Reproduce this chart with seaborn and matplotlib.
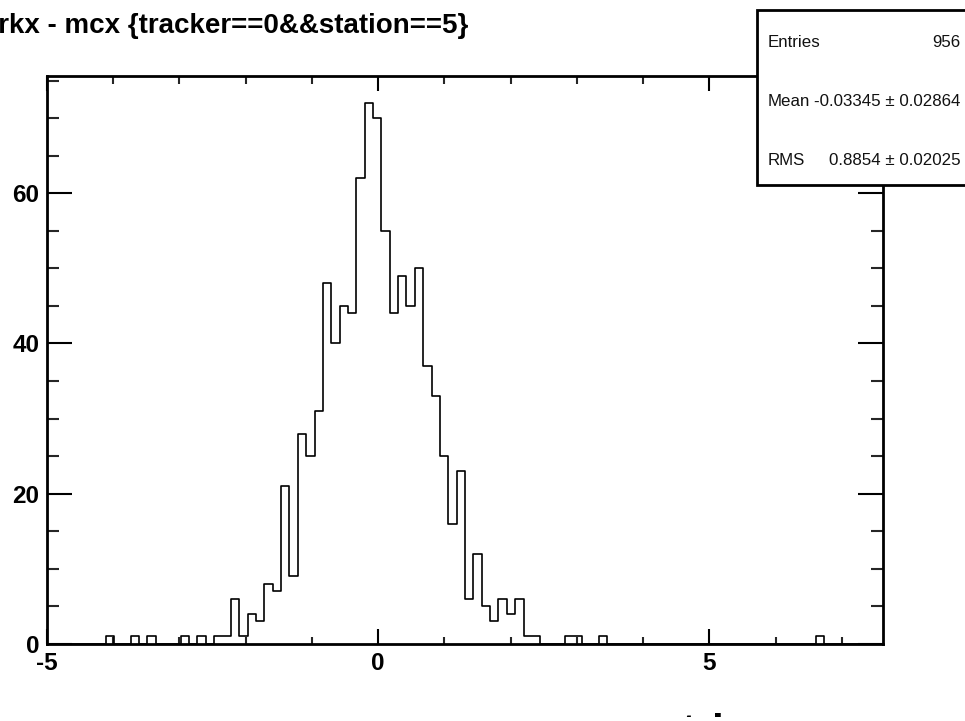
import numpy as np
import pandas as pd
import matplotlib
matplotlib.use("Agg")
import matplotlib.pyplot as plt
import seaborn as sns
from matplotlib.patches import Rectangle
from matplotlib.transforms import Bbox
from matplotlib.ticker import FixedLocator, MultipleLocator

# Binning of the residual trkx - mcx
x_low = -5.0
x_high = 7.62
n_bins = 100

# Non-empty bins: bin number and number of entries
bin_index = [7, 10, 12, 16, 18, 20, 21,
             22, 23, 24, 25, 26, 27, 28, 29, 30, 31, 32, 33, 34, 35, 36, 37,
             38, 39, 40, 41, 42, 43, 44, 45, 46, 47, 48, 49, 50, 51, 52, 53,
             54, 55, 56, 57, 58,
             62, 63, 66, 92]
bin_count = [1, 1, 1, 1, 1, 1, 1,
             6, 1, 4, 3, 8, 7, 21, 9, 28, 25, 31, 48, 40, 45, 44, 62,
             72, 70, 55, 44, 49, 45, 50, 37, 33, 25, 16, 23, 6, 12, 5, 3,
             6, 4, 6, 1, 1,
             1, 1, 1, 1]

x_major = [-5, 0, 5]
y_major = [0, 20, 40, 60]

hist_title = "trkx - mcx {tracker==0&&station==5}"
axis_title = "trkx - mcx"
stat_names = ["Entries", "Mean", "RMS"]
stat_values = ["956", "-0.03345 \u00b1 0.02864", "0.8854 \u00b1 0.02025"]

sns.set_theme(style="ticks")
plt.rcParams["font.family"] = ["Liberation Sans", "DejaVu Sans"]
plt.rcParams["font.weight"] = "bold"
plt.rcParams["axes.unicode_minus"] = False

W, H = 965, 721
fig = plt.figure(figsize=(W / 100, H / 100), dpi=100)
fig.patch.set_facecolor("white")

ax_l, ax_r, ax_t, ax_b = 47, 883, 76, 644
ax = fig.add_axes([ax_l / W, 1 - ax_b / H, (ax_r - ax_l) / W, (ax_b - ax_t) / H])
ax.set_facecolor("white")

edges = np.linspace(x_low, x_high, n_bins + 1)
idx = np.asarray(bin_index)
df = pd.DataFrame({
    "dx": 0.5 * (edges[idx] + edges[idx + 1]),
    "n": bin_count,
})
sns.histplot(data=df, x="dx", weights="n", bins=n_bins, binrange=(x_low, x_high),
             element="step", fill=False, color="black", linewidth=1.2, ax=ax)

ax.set_xlim(x_low, x_high)
ax.set_ylim(0, max(bin_count) * 1.05)
ax.set_xlabel("")
ax.set_ylabel("")

ax.xaxis.set_major_locator(FixedLocator(x_major))
ax.xaxis.set_minor_locator(MultipleLocator(1))
ax.yaxis.set_major_locator(FixedLocator(y_major))
ax.yaxis.set_minor_locator(MultipleLocator(5))

px = 0.72
ax.tick_params(axis="x", which="major", direction="in", length=15 * px, width=1.5,
               top=True, bottom=True, labelsize=17.5, pad=5.5, colors="black")
ax.tick_params(axis="x", which="minor", direction="in", length=7.5 * px, width=1.5,
               top=True, bottom=True)
ax.tick_params(axis="y", which="major", direction="in", length=25 * px, width=1.5,
               left=True, right=True, labelsize=17.5, pad=5.5, colors="black")
ax.tick_params(axis="y", which="minor", direction="in", length=12 * px, width=1.5,
               left=True, right=True)
for lab in ax.get_xticklabels() + ax.get_yticklabels():
    lab.set_fontweight("bold")

for sp in ax.spines.values():
    sp.set_visible(True)
    sp.set_linewidth(2.0)
    sp.set_color("black")

# Histogram title (starts left of the canvas edge)
fig.text(-11 / W, 1 - 33 / H, hist_title, ha="left", va="baseline",
         fontsize=20, fontweight="bold", color="black")

# Axis title, right-adjusted near the end of the x axis, cut at the canvas bottom
xt = fig.text((ax_r - 4) / W, 1 - 744 / H, axis_title, ha="right", va="baseline",
              fontsize=30, fontweight="bold", color="black")
xt.set_clip_box(Bbox.from_extents(0, 4, W, H))
xt.set_clip_on(True)

# Statistics box
box_l, box_t, box_b = 757, 10, 185
fig.add_artist(Rectangle((box_l / W, 1 - box_b / H), (W + 20 - box_l) / W,
                         (box_b - box_t) / H, transform=fig.transFigure,
                         facecolor="white", edgecolor="black", linewidth=2.0,
                         zorder=10, clip_on=False))
rows_y = [47.3, 106, 165]
for name, val, yb in zip(stat_names, stat_values, rows_y):
    fig.text(767.5 / W, 1 - yb / H, name, ha="left", va="baseline",
             fontsize=12.2, fontweight="normal", color="#111111", zorder=11)
    fig.text(960.5 / W, 1 - yb / H, val, ha="right", va="baseline",
             fontsize=12.2, fontweight="normal", color="#111111", zorder=11)

fig.savefig("out.png", dpi=100, facecolor="white")
